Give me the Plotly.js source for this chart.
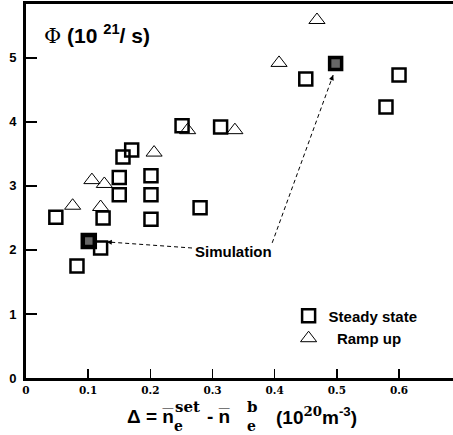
<!DOCTYPE html>
<html>
<head>
<meta charset="utf-8">
<script src="https://cdn.plot.ly/plotly-3.0.1.min.js"></script>
<style>html,body{margin:0;padding:0;background:#fff;}#chart{width:453px;height:435px;}</style>
</head>
<body>
<div id="chart"></div>
<script>
// Steady state data
const steadyX = [0.048, 0.082, 0.120, 0.124, 0.150, 0.150, 0.156, 0.170, 0.201, 0.201, 0.201, 0.251, 0.280, 0.313, 0.450, 0.579, 0.600];
const steadyY = [2.51, 1.75, 2.03, 2.50, 2.86, 3.13, 3.45, 3.56, 2.48, 2.86, 3.16, 3.94, 2.66, 3.92, 4.67, 4.23, 4.73];
// Ramp up data
const rampX = [0.075, 0.106, 0.120, 0.126, 0.206, 0.260, 0.336, 0.407, 0.468];
const rampY = [2.69, 3.09, 2.67, 3.03, 3.52, 3.87, 3.87, 4.92, 5.59];
// Simulation points
const simX = [0.101, 0.498];
const simY = [2.14, 4.91];
// Tick labels
const xTicks = [0, 0.1, 0.2, 0.3, 0.4, 0.5, 0.6];
const xTickText = ['0', '0.1', '0.2', '0.3', '0.4', '0.5', '0.6'];
const yTicks = [0, 1, 2, 3, 4, 5];
// Arrow annotation anchors (head, tail) in data coordinates
const arrowHeads = [[0.130, 2.125], [0.494, 4.73]];
const arrowTails = [[0.267, 2.03], [0.396, 2.11]];

const sans = 'Liberation Sans, Arial, sans-serif';
const serifW = 'DejaVu Serif, serif';

const W = 453, H = 435, ML = 26, MR = 0, MT = 4, MB = 57;
const PW = W - ML - MR, PH = H - MT - MB;
const px = v => (v - ML) / PW;          // pixel x -> paper
const py = v => (H - MB - v) / PH;      // pixel y -> paper

const traces = [
  {x: steadyX, y: steadyY, type: 'scatter', mode: 'markers', name: 'Steady state',
   marker: {symbol: 'square-open', size: 13, color: '#000', line: {width: 2.5, color: '#000'}}, legendgroup: 'a'},
  {x: rampX, y: rampY, type: 'scatter', mode: 'markers', name: '\u00a0\u00a0Ramp up',
   marker: {symbol: 'triangle-up-open', size: 14, color: '#000', line: {width: 1, color: '#000'}}, legendgroup: 'b'},
  {x: simX, y: simY, type: 'scatter', mode: 'markers', name: 'Simulation', showlegend: false,
   marker: {symbol: 'square', size: 12, color: '#666', line: {width: [4.5, 3.5], color: '#000'}}}
];

const shapes = arrowHeads.map((h, i) => ({
  type: 'line', xref: 'x', yref: 'y', x0: arrowTails[i][0], y0: arrowTails[i][1], x1: h[0], y1: h[1],
  line: {color: '#000', width: 1, dash: '4px,3px'}
}));

const bold = (size, fam) => ({family: fam || sans, size: size, color: '#000', weight: 'bold'});
const txt = (x, y, text, font, ya) => ({x: px(x), y: py(y), xref: 'paper', yref: 'paper', text: text,
  showarrow: false, xanchor: 'left', yanchor: ya || 'middle', font: font, borderpad: 0});

const annotations = [
  {x: 0.333, y: 1.98, xref: 'x', yref: 'y', text: 'Simulation', showarrow: false, font: bold(15)},
  {x: arrowHeads[0][0], y: arrowHeads[0][1], xref: 'x', yref: 'y', text: '', showarrow: true,
   ax: 7, ay: 0.5, arrowhead: 2, arrowsize: 1, arrowwidth: 1, arrowcolor: '#000'},
  {x: arrowHeads[1][0], y: arrowHeads[1][1], xref: 'x', yref: 'y', text: '', showarrow: true,
   ax: -2.4, ay: 6.6, arrowhead: 2, arrowsize: 1, arrowwidth: 1, arrowcolor: '#000'},
  // y-axis title inside the plot
  txt(43, 34, '<span style="font-family:DejaVu Serif;font-weight:normal">\u03a6</span> (10 <sup>21</sup>/ s)', bold(21)),
  // x-axis title, built piece by piece so the super/subscripts stack
  txt(126, 416, '\u0394 = n\u0305', bold(19)),
  txt(174, 407, 'set', bold(15, serifW)),
  txt(173, 435, 'e', bold(14, serifW), 'bottom'),
  txt(206, 416, '- n\u0305', bold(19)),
  txt(246, 407, 'b', bold(15, serifW)),
  txt(246, 435, 'e', bold(14, serifW), 'bottom'),
  txt(275, 416, '(10<span style="font-family:DejaVu Serif"><sup>20</sup></span>m<sup>-3</sup>)', bold(19))
];

const layout = {
  width: W, height: H,
  margin: {l: ML, r: MR, t: MT, b: MB},
  paper_bgcolor: '#fff', plot_bgcolor: '#fff',
  showlegend: true,
  legend: {x: 0.615, y: 0.21, xanchor: 'left', yanchor: 'top', bgcolor: 'rgba(0,0,0,0)',
           traceorder: 'grouped', tracegroupgap: 0, font: bold(15)},
  xaxis: {range: [0, 0.6868], tickvals: xTicks, ticktext: xTickText, ticks: 'inside', ticklen: 9, tickwidth: 1.5,
          tickcolor: '#000', showgrid: false, zeroline: false, showline: true, linewidth: 3, linecolor: '#000', mirror: true,
          tickfont: bold(10.5, serifW)},
  yaxis: {range: [0, 5.84], tickvals: yTicks, ticks: 'inside', ticklen: 11, tickwidth: 1.5, tickcolor: '#000',
          showgrid: false, zeroline: false, showline: true, linewidth: 3, linecolor: '#000',
          ticklabelstandoff: 4, tickfont: bold(13)},
  shapes: shapes,
  annotations: annotations
};

Plotly.newPlot('chart', traces, layout, {displayModeBar: false, staticPlot: true});
</script>
</body>
</html>
